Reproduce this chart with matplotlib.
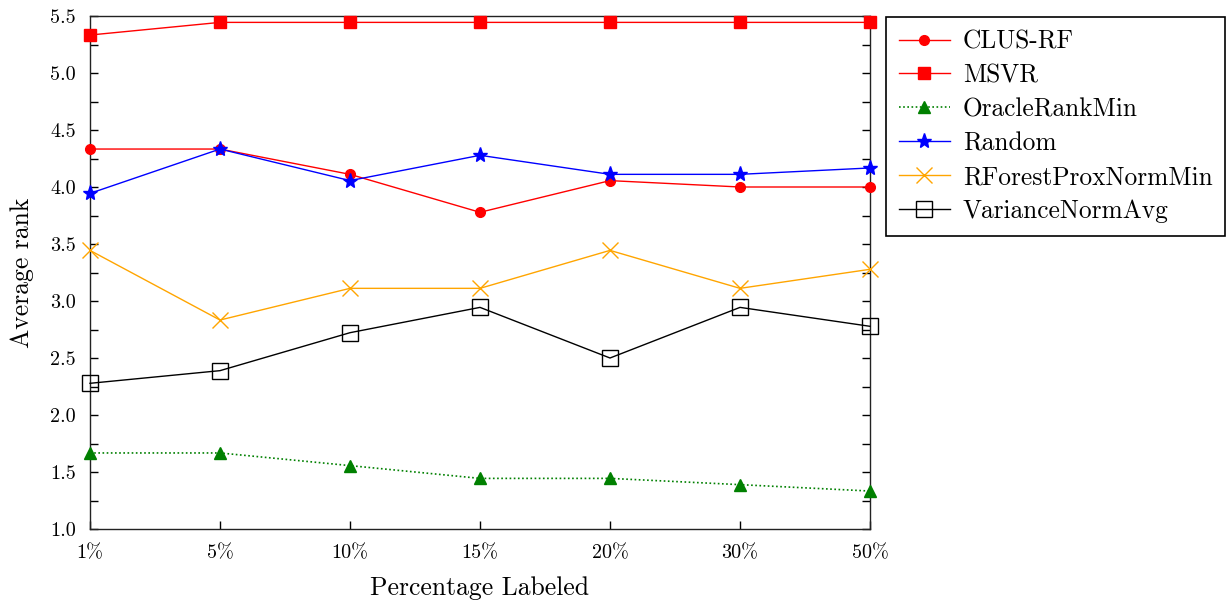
import matplotlib
matplotlib.use("Agg")
import matplotlib.pyplot as plt
from matplotlib.ticker import MultipleLocator, FormatStrFormatter

plt.rcParams['font.family'] = ['cmr10', 'DejaVu Serif']
plt.rcParams['mathtext.fontset'] = 'cm'
plt.rcParams['axes.unicode_minus'] = False
plt.rcParams['axes.formatter.use_mathtext'] = True

categories = ["1%", "5%", "10%", "15%", "20%", "30%", "50%"]
clus_rf = [4.333, 4.333, 4.111, 3.778, 4.056, 4.0, 4.0]
msvr = [5.333, 5.444, 5.444, 5.444, 5.444, 5.444, 5.444]
oracle = [1.667, 1.667, 1.556, 1.444, 1.444, 1.389, 1.333]
random_ = [3.944, 4.333, 4.056, 4.278, 4.111, 4.111, 4.167]
rforest = [3.444, 2.833, 3.111, 3.111, 3.444, 3.111, 3.278]
variance = [2.278, 2.389, 2.722, 2.944, 2.5, 2.944, 2.778]

fig = plt.figure(figsize=(12.31, 6.04), dpi=100)
ax = fig.add_axes([90/1231, 1-529/604, 780/1231, 513/604])
x = list(range(len(categories)))
lw = 1.0
ax.plot(x, clus_rf, color='red', marker='o', ms=7, lw=lw, label='CLUS-RF', clip_on=False, zorder=3)
ax.plot(x, msvr, color='red', marker='s', ms=9, lw=lw, label='MSVR', clip_on=False, zorder=3)
ax.plot(x, oracle, color='green', marker='^', ms=9, lw=1.2, ls=(0, (1, 1.5)), label='OracleRankMin', clip_on=False, zorder=3)
ax.plot(x, random_, color='blue', marker='*', ms=11, lw=lw, label='Random', clip_on=False, zorder=3)
ax.plot(x, rforest, color='orange', marker='x', ms=11, mew=1.0, lw=lw, label='RForestProxNormMin', clip_on=False, zorder=3)
ax.plot(x, variance, color='black', marker='s', ms=12, mfc='none', mew=1.0, lw=lw, label='VarianceNormAvg', clip_on=False, zorder=3)

ax.set_xlim(0, len(categories) - 1)
ax.set_ylim(1.0, 5.5)
ax.set_xticks(x)
ax.set_xticklabels(categories)
ax.yaxis.set_major_locator(MultipleLocator(0.5))
ax.yaxis.set_minor_locator(MultipleLocator(0.25))
ax.yaxis.set_major_formatter(FormatStrFormatter('%.1f'))
ax.tick_params(axis='y', which='both', direction='in', left=True, right=True, length=6, width=1.0, labelsize=14.5, pad=10)
ax.tick_params(axis='x', which='both', direction='in', bottom=True, top=False, length=6, width=1.0, labelsize=14.5, pad=11)
for s in ax.spines.values():
    s.set_linewidth(1.0)
    s.set_color('#222222')
ax.set_xlabel('Percentage Labeled', fontsize=18.5, labelpad=10)
ax.set_ylabel('Average rank', fontsize=18.5, labelpad=12)

leg = ax.legend(loc='upper left', bbox_to_anchor=(886/1231, 1-17/604), bbox_transform=fig.transFigure,
                fontsize=18.3, frameon=True, fancybox=False, edgecolor='black', framealpha=1,
                handlelength=2.0, handletextpad=0.52, borderpad=0.5, labelspacing=0.40, borderaxespad=0)
leg.get_frame().set_linewidth(1.2)

fig.savefig('out.png', dpi=100)
